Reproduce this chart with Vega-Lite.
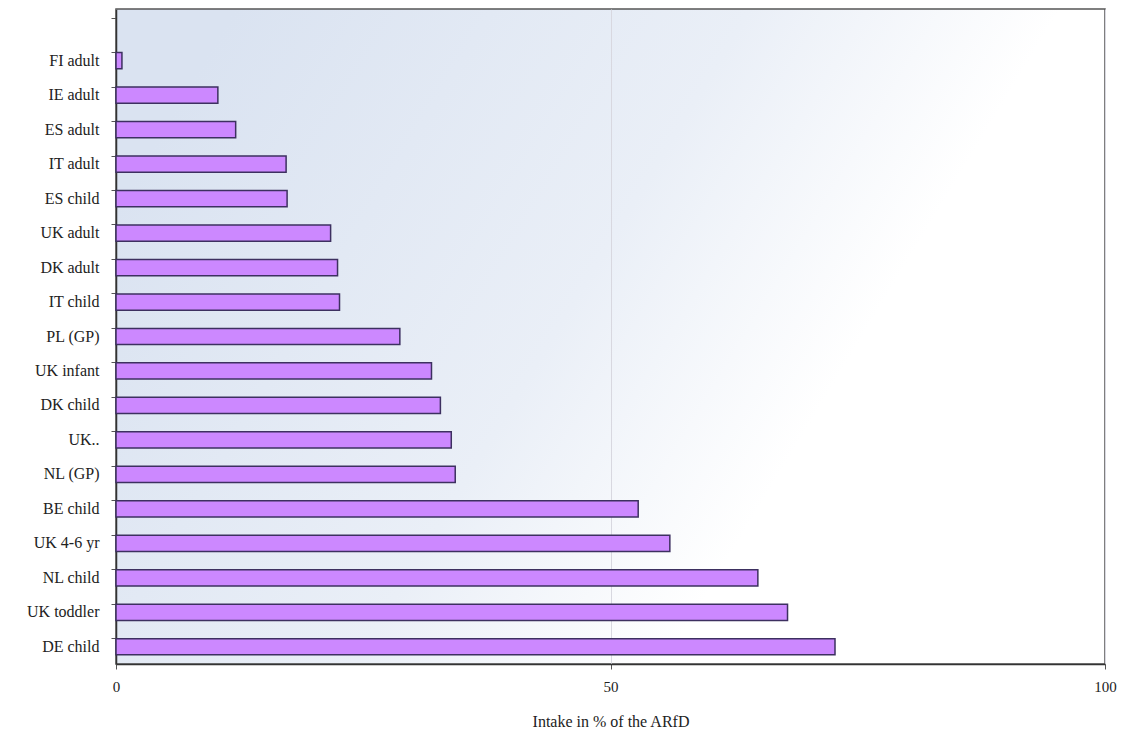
{
  "$schema": "https://vega.github.io/schema/vega-lite/v6.json",
  "width": 989,
  "height": 655,
  "autosize": {"type": "none"},
  "padding": {"left": 116, "top": 9, "right": 22, "bottom": 70},
  "background": "#ffffff",
  "config": {
    "view": {
      "stroke": "#555555",
      "strokeWidth": 1.5,
      "fill": {
        "gradient": "linear",
        "x1": 0, "y1": 0.3, "x2": 1, "y2": 0.7,
        "stops": [
          {"offset": 0, "color": "#dae3f1"},
          {"offset": 0.45, "color": "#eaeff7"},
          {"offset": 0.72, "color": "#ffffff"},
          {"offset": 1, "color": "#ffffff"}
        ]
      }
    },
    "font": "Liberation Serif"
  },
  "data": {
    "values": [
      {"group": "FI adult", "intake": 0.6},
      {"group": "IE adult", "intake": 10.3},
      {"group": "ES adult", "intake": 12.1},
      {"group": "IT adult", "intake": 17.2},
      {"group": "ES child", "intake": 17.3},
      {"group": "UK adult", "intake": 21.7},
      {"group": "DK adult", "intake": 22.4},
      {"group": "IT child", "intake": 22.6},
      {"group": "PL (GP)", "intake": 28.7},
      {"group": "UK infant", "intake": 31.9},
      {"group": "DK child", "intake": 32.8},
      {"group": "UK..", "intake": 33.9},
      {"group": "NL (GP)", "intake": 34.3},
      {"group": "BE child", "intake": 52.8},
      {"group": "UK 4-6 yr", "intake": 56.0},
      {"group": "NL child", "intake": 64.9},
      {"group": "UK toddler", "intake": 67.9},
      {"group": "DE child", "intake": 72.7}
    ]
  },
  "mark": {"type": "bar", "fill": "#cc88ff", "stroke": "#3d3060", "strokeWidth": 1.5},
  "encoding": {
    "y": {
      "field": "group",
      "type": "nominal",
      "sort": null,
      "scale": {
        "domain": [" ", "FI adult", "IE adult", "ES adult", "IT adult", "ES child", "UK adult", "DK adult", "IT child", "PL (GP)", "UK infant", "DK child", "UK..", "NL (GP)", "BE child", "UK 4-6 yr", "NL child", "UK toddler", "DE child"],
        "paddingInner": 0.53,
        "paddingOuter": 0.265
      },
      "axis": {
        "title": null,
        "labelFont": "Liberation Serif",
        "labelFontSize": 16,
        "labelColor": "#222222",
        "labelPadding": 12,
        "domainColor": "#333333",
        "domainWidth": 1.5,
        "tickColor": "#555555",
        "tickSize": 5,
        "bandPosition": 0,
        "labelBaseline": "middle"
      }
    },
    "x": {
      "field": "intake",
      "type": "quantitative",
      "scale": {"domain": [0, 100], "nice": false},
      "axis": {
        "values": [0, 50, 100],
        "title": "Intake in % of the ARfD",
        "titleFont": "Liberation Serif",
        "titleFontSize": 16,
        "titleFontWeight": "normal",
        "titleColor": "#222222",
        "titlePadding": 19,
        "labelFont": "Liberation Serif",
        "labelFontSize": 15,
        "labelColor": "#222222",
        "labelPadding": 10,
        "labelFlush": false,
        "domainColor": "#333333",
        "domainWidth": 1.5,
        "tickColor": "#555555",
        "tickSize": 5,
        "grid": true,
        "gridColor": "#d8d8e0",
        "gridWidth": 1
      }
    }
  }
}
